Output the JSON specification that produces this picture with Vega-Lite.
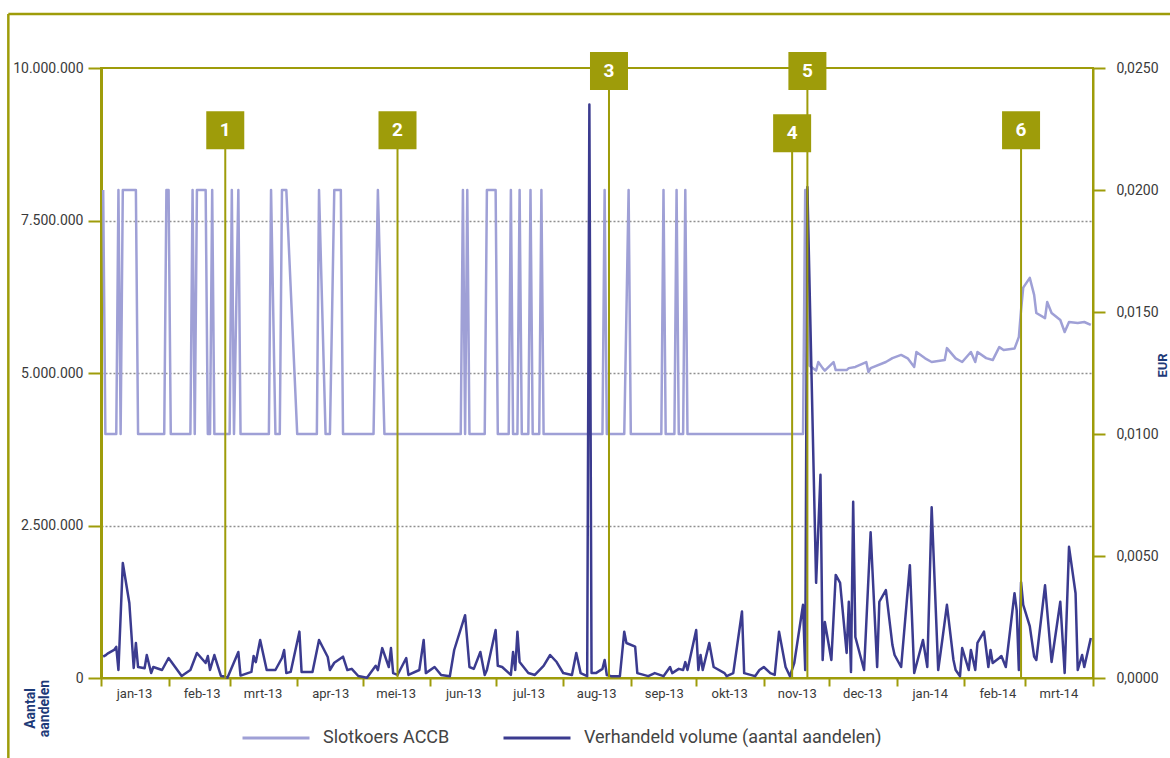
{
  "$schema": "https://vega.github.io/schema/vega-lite/v6.json",
  "width": 992,
  "height": 610,
  "autosize": "none",
  "padding": {"left": 101, "top": 68, "right": 77, "bottom": 80},
  "background": "white",
  "config": {
    "locale": {"number": {"decimal": ",", "thousands": ".", "grouping": [3], "currency": ["€", ""]}},
    "view": {"stroke": "#9e9c0a", "strokeWidth": 2},
    "axis": {"labelFont": "Roboto", "labelFontSize": 13, "labelColor": "#3a3a3a", "domainColor": "#9e9c0a", "tickColor": "#9e9c0a", "domainWidth": 2, "tickWidth": 2, "titleFont": "Roboto"},
    "line": {"strokeJoin": "round"}
  },
  "datasets": {
    "volume": [
      {"date": "2013-01-02", "volume": 350000}, {"date": "2013-01-03", "volume": 370000}, {"date": "2013-01-04", "volume": 400000},
      {"date": "2013-01-07", "volume": 460000}, {"date": "2013-01-08", "volume": 510000}, {"date": "2013-01-09", "volume": 130000},
      {"date": "2013-01-11", "volume": 1885000}, {"date": "2013-01-14", "volume": 1230000}, {"date": "2013-01-16", "volume": 164000},
      {"date": "2013-01-17", "volume": 574000}, {"date": "2013-01-18", "volume": 180000}, {"date": "2013-01-21", "volume": 160000},
      {"date": "2013-01-22", "volume": 377000}, {"date": "2013-01-24", "volume": 82000}, {"date": "2013-01-25", "volume": 180000},
      {"date": "2013-01-29", "volume": 131000}, {"date": "2013-02-01", "volume": 328000}, {"date": "2013-02-04", "volume": 180000},
      {"date": "2013-02-07", "volume": 33000}, {"date": "2013-02-11", "volume": 131000}, {"date": "2013-02-14", "volume": 410000},
      {"date": "2013-02-18", "volume": 246000}, {"date": "2013-02-19", "volume": 360000}, {"date": "2013-02-20", "volume": 131000},
      {"date": "2013-02-22", "volume": 377000}, {"date": "2013-02-25", "volume": 33000}, {"date": "2013-02-26", "volume": 30000},
      {"date": "2013-02-28", "volume": 5000}, {"date": "2013-03-05", "volume": 426000}, {"date": "2013-03-06", "volume": 40000},
      {"date": "2013-03-11", "volume": 100000}, {"date": "2013-03-12", "volume": 360000}, {"date": "2013-03-13", "volume": 260000},
      {"date": "2013-03-15", "volume": 623000}, {"date": "2013-03-18", "volume": 131000}, {"date": "2013-03-22", "volume": 131000},
      {"date": "2013-03-25", "volume": 328000}, {"date": "2013-03-26", "volume": 459000}, {"date": "2013-03-27", "volume": 80000},
      {"date": "2013-03-29", "volume": 100000}, {"date": "2013-04-02", "volume": 760000}, {"date": "2013-04-03", "volume": 100000},
      {"date": "2013-04-08", "volume": 100000}, {"date": "2013-04-11", "volume": 623000}, {"date": "2013-04-15", "volume": 344000},
      {"date": "2013-04-16", "volume": 131000}, {"date": "2013-04-18", "volume": 250000}, {"date": "2013-04-22", "volume": 350000},
      {"date": "2013-04-24", "volume": 130000}, {"date": "2013-04-26", "volume": 150000}, {"date": "2013-04-29", "volume": 33000},
      {"date": "2013-05-03", "volume": 5000}, {"date": "2013-05-07", "volume": 200000}, {"date": "2013-05-08", "volume": 130000},
      {"date": "2013-05-10", "volume": 490000}, {"date": "2013-05-13", "volume": 180000}, {"date": "2013-05-14", "volume": 490000},
      {"date": "2013-05-15", "volume": 80000}, {"date": "2013-05-17", "volume": 50000}, {"date": "2013-05-21", "volume": 328000},
      {"date": "2013-05-22", "volume": 50000}, {"date": "2013-05-27", "volume": 131000}, {"date": "2013-05-29", "volume": 623000},
      {"date": "2013-05-30", "volume": 80000}, {"date": "2013-06-03", "volume": 180000}, {"date": "2013-06-06", "volume": 50000},
      {"date": "2013-06-10", "volume": 30000}, {"date": "2013-06-12", "volume": 459000}, {"date": "2013-06-17", "volume": 1030000},
      {"date": "2013-06-19", "volume": 180000}, {"date": "2013-06-21", "volume": 150000}, {"date": "2013-06-24", "volume": 426000},
      {"date": "2013-06-26", "volume": 50000}, {"date": "2013-06-27", "volume": 131000}, {"date": "2013-07-01", "volume": 787000},
      {"date": "2013-07-02", "volume": 200000}, {"date": "2013-07-04", "volume": 180000}, {"date": "2013-07-08", "volume": 50000},
      {"date": "2013-07-09", "volume": 426000}, {"date": "2013-07-10", "volume": 131000}, {"date": "2013-07-11", "volume": 760000},
      {"date": "2013-07-12", "volume": 262000}, {"date": "2013-07-16", "volume": 82000}, {"date": "2013-07-19", "volume": 50000},
      {"date": "2013-07-23", "volume": 200000}, {"date": "2013-07-26", "volume": 377000}, {"date": "2013-07-29", "volume": 262000},
      {"date": "2013-08-01", "volume": 82000}, {"date": "2013-08-05", "volume": 50000}, {"date": "2013-08-07", "volume": 410000},
      {"date": "2013-08-09", "volume": 80000}, {"date": "2013-08-12", "volume": 30000}, {"date": "2013-08-13", "volume": 9400000},
      {"date": "2013-08-14", "volume": 80000}, {"date": "2013-08-16", "volume": 80000}, {"date": "2013-08-19", "volume": 150000},
      {"date": "2013-08-20", "volume": 295000}, {"date": "2013-08-21", "volume": 50000}, {"date": "2013-08-23", "volume": 30000},
      {"date": "2013-08-27", "volume": 30000}, {"date": "2013-08-29", "volume": 760000}, {"date": "2013-08-30", "volume": 574000},
      {"date": "2013-09-03", "volume": 513000}, {"date": "2013-09-04", "volume": 80000}, {"date": "2013-09-09", "volume": 30000},
      {"date": "2013-09-12", "volume": 80000}, {"date": "2013-09-16", "volume": 30000}, {"date": "2013-09-19", "volume": 180000},
      {"date": "2013-09-20", "volume": 80000}, {"date": "2013-09-23", "volume": 150000}, {"date": "2013-09-25", "volume": 131000},
      {"date": "2013-09-26", "volume": 260000}, {"date": "2013-09-27", "volume": 131000}, {"date": "2013-10-01", "volume": 787000},
      {"date": "2013-10-02", "volume": 131000}, {"date": "2013-10-03", "volume": 377000}, {"date": "2013-10-04", "volume": 131000},
      {"date": "2013-10-07", "volume": 574000}, {"date": "2013-10-09", "volume": 180000}, {"date": "2013-10-14", "volume": 80000},
      {"date": "2013-10-15", "volume": 30000}, {"date": "2013-10-18", "volume": 80000}, {"date": "2013-10-22", "volume": 1090000},
      {"date": "2013-10-23", "volume": 80000}, {"date": "2013-10-28", "volume": 30000}, {"date": "2013-10-30", "volume": 131000},
      {"date": "2013-11-01", "volume": 180000}, {"date": "2013-11-04", "volume": 80000}, {"date": "2013-11-06", "volume": 50000},
      {"date": "2013-11-08", "volume": 760000}, {"date": "2013-11-11", "volume": 180000}, {"date": "2013-11-13", "volume": 30000},
      {"date": "2013-11-15", "volume": 250000}, {"date": "2013-11-19", "volume": 1200000}, {"date": "2013-11-20", "volume": 131000},
      {"date": "2013-11-21", "volume": 8050000}, {"date": "2013-11-25", "volume": 1560000}, {"date": "2013-11-27", "volume": 3330000},
      {"date": "2013-11-28", "volume": 295000}, {"date": "2013-11-29", "volume": 918000}, {"date": "2013-12-02", "volume": 295000},
      {"date": "2013-12-04", "volume": 1690000}, {"date": "2013-12-06", "volume": 1560000}, {"date": "2013-12-09", "volume": 410000},
      {"date": "2013-12-10", "volume": 1250000}, {"date": "2013-12-11", "volume": 100000}, {"date": "2013-12-12", "volume": 2890000},
      {"date": "2013-12-13", "volume": 672000}, {"date": "2013-12-17", "volume": 131000}, {"date": "2013-12-20", "volume": 2390000},
      {"date": "2013-12-23", "volume": 180000}, {"date": "2013-12-24", "volume": 1250000}, {"date": "2013-12-27", "volume": 1440000},
      {"date": "2013-12-30", "volume": 540000}, {"date": "2013-12-31", "volume": 377000}, {"date": "2014-01-03", "volume": 180000},
      {"date": "2014-01-07", "volume": 1850000}, {"date": "2014-01-09", "volume": 82000}, {"date": "2014-01-13", "volume": 623000},
      {"date": "2014-01-15", "volume": 180000}, {"date": "2014-01-17", "volume": 2800000}, {"date": "2014-01-20", "volume": 131000},
      {"date": "2014-01-22", "volume": 656000}, {"date": "2014-01-24", "volume": 1200000}, {"date": "2014-01-27", "volume": 295000},
      {"date": "2014-01-28", "volume": 131000}, {"date": "2014-01-30", "volume": 30000}, {"date": "2014-01-31", "volume": 490000},
      {"date": "2014-02-03", "volume": 131000}, {"date": "2014-02-04", "volume": 459000}, {"date": "2014-02-06", "volume": 131000},
      {"date": "2014-02-07", "volume": 574000}, {"date": "2014-02-10", "volume": 760000}, {"date": "2014-02-12", "volume": 180000},
      {"date": "2014-02-13", "volume": 459000}, {"date": "2014-02-14", "volume": 246000}, {"date": "2014-02-17", "volume": 328000},
      {"date": "2014-02-18", "volume": 360000}, {"date": "2014-02-20", "volume": 180000}, {"date": "2014-02-24", "volume": 1390000},
      {"date": "2014-02-25", "volume": 1110000}, {"date": "2014-02-26", "volume": 131000}, {"date": "2014-02-27", "volume": 1570000},
      {"date": "2014-02-28", "volume": 1200000}, {"date": "2014-03-03", "volume": 850000}, {"date": "2014-03-05", "volume": 350000},
      {"date": "2014-03-06", "volume": 295000}, {"date": "2014-03-10", "volume": 1520000}, {"date": "2014-03-13", "volume": 262000},
      {"date": "2014-03-17", "volume": 1250000}, {"date": "2014-03-19", "volume": 82000}, {"date": "2014-03-21", "volume": 2150000},
      {"date": "2014-03-24", "volume": 1390000}, {"date": "2014-03-25", "volume": 131000}, {"date": "2014-03-27", "volume": 377000},
      {"date": "2014-03-28", "volume": 180000}, {"date": "2014-03-31", "volume": 656000}
    ],
    "price": [
      {"date": "2013-01-02", "price": 0.02}, {"date": "2013-01-03", "price": 0.01}, {"date": "2013-01-08", "price": 0.01},
      {"date": "2013-01-09", "price": 0.02}, {"date": "2013-01-10", "price": 0.01}, {"date": "2013-01-11", "price": 0.02},
      {"date": "2013-01-17", "price": 0.02}, {"date": "2013-01-18", "price": 0.01}, {"date": "2013-01-30", "price": 0.01},
      {"date": "2013-01-31", "price": 0.02}, {"date": "2013-02-01", "price": 0.02}, {"date": "2013-02-02", "price": 0.01},
      {"date": "2013-02-11", "price": 0.01}, {"date": "2013-02-12", "price": 0.02}, {"date": "2013-02-13", "price": 0.01},
      {"date": "2013-02-14", "price": 0.02}, {"date": "2013-02-18", "price": 0.02}, {"date": "2013-02-19", "price": 0.01},
      {"date": "2013-02-20", "price": 0.01}, {"date": "2013-02-21", "price": 0.02}, {"date": "2013-02-22", "price": 0.01},
      {"date": "2013-03-01", "price": 0.01}, {"date": "2013-03-02", "price": 0.02}, {"date": "2013-03-03", "price": 0.01},
      {"date": "2013-03-05", "price": 0.02}, {"date": "2013-03-06", "price": 0.01}, {"date": "2013-03-19", "price": 0.01},
      {"date": "2013-03-20", "price": 0.02}, {"date": "2013-03-22", "price": 0.01}, {"date": "2013-03-24", "price": 0.01},
      {"date": "2013-03-25", "price": 0.02}, {"date": "2013-03-27", "price": 0.02}, {"date": "2013-04-01", "price": 0.01},
      {"date": "2013-04-10", "price": 0.01}, {"date": "2013-04-11", "price": 0.02}, {"date": "2013-04-14", "price": 0.01},
      {"date": "2013-04-16", "price": 0.01}, {"date": "2013-04-18", "price": 0.02}, {"date": "2013-04-21", "price": 0.02},
      {"date": "2013-04-22", "price": 0.01}, {"date": "2013-05-06", "price": 0.01}, {"date": "2013-05-08", "price": 0.02},
      {"date": "2013-05-11", "price": 0.01}, {"date": "2013-06-15", "price": 0.01}, {"date": "2013-06-16", "price": 0.02},
      {"date": "2013-06-17", "price": 0.01}, {"date": "2013-06-18", "price": 0.02}, {"date": "2013-06-19", "price": 0.01},
      {"date": "2013-06-26", "price": 0.01}, {"date": "2013-06-27", "price": 0.02}, {"date": "2013-07-01", "price": 0.02},
      {"date": "2013-07-02", "price": 0.01}, {"date": "2013-07-07", "price": 0.01}, {"date": "2013-07-08", "price": 0.02},
      {"date": "2013-07-09", "price": 0.01}, {"date": "2013-07-11", "price": 0.01}, {"date": "2013-07-12", "price": 0.02},
      {"date": "2013-07-13", "price": 0.01}, {"date": "2013-07-16", "price": 0.01}, {"date": "2013-07-17", "price": 0.02},
      {"date": "2013-07-18", "price": 0.01}, {"date": "2013-07-21", "price": 0.01}, {"date": "2013-07-22", "price": 0.02},
      {"date": "2013-07-23", "price": 0.01}, {"date": "2013-08-19", "price": 0.01}, {"date": "2013-08-20", "price": 0.02},
      {"date": "2013-08-21", "price": 0.01}, {"date": "2013-08-29", "price": 0.01}, {"date": "2013-08-31", "price": 0.02},
      {"date": "2013-09-01", "price": 0.01}, {"date": "2013-09-15", "price": 0.01}, {"date": "2013-09-16", "price": 0.02},
      {"date": "2013-09-17", "price": 0.01}, {"date": "2013-09-21", "price": 0.01}, {"date": "2013-09-22", "price": 0.02},
      {"date": "2013-09-23", "price": 0.01}, {"date": "2013-09-25", "price": 0.01}, {"date": "2013-09-26", "price": 0.02},
      {"date": "2013-09-27", "price": 0.01}, {"date": "2013-11-19", "price": 0.01}, {"date": "2013-11-20", "price": 0.02},
      {"date": "2013-11-21", "price": 0.02}, {"date": "2013-11-22", "price": 0.0128}, {"date": "2013-11-25", "price": 0.0126},
      {"date": "2013-11-26", "price": 0.01295}, {"date": "2013-11-28", "price": 0.0127}, {"date": "2013-11-29", "price": 0.0126},
      {"date": "2013-12-03", "price": 0.01295}, {"date": "2013-12-04", "price": 0.01262}, {"date": "2013-12-06", "price": 0.01262},
      {"date": "2013-12-09", "price": 0.01262}, {"date": "2013-12-10", "price": 0.0127}, {"date": "2013-12-13", "price": 0.01275},
      {"date": "2013-12-18", "price": 0.01295}, {"date": "2013-12-19", "price": 0.01254}, {"date": "2013-12-20", "price": 0.0127},
      {"date": "2013-12-27", "price": 0.01295}, {"date": "2013-12-30", "price": 0.01311}, {"date": "2014-01-03", "price": 0.01324},
      {"date": "2014-01-06", "price": 0.0131}, {"date": "2014-01-09", "price": 0.01275}, {"date": "2014-01-10", "price": 0.01336},
      {"date": "2014-01-14", "price": 0.0131}, {"date": "2014-01-17", "price": 0.01295}, {"date": "2014-01-23", "price": 0.01303},
      {"date": "2014-01-24", "price": 0.01352}, {"date": "2014-01-28", "price": 0.0131}, {"date": "2014-01-31", "price": 0.01295},
      {"date": "2014-02-04", "price": 0.01336}, {"date": "2014-02-06", "price": 0.01295}, {"date": "2014-02-07", "price": 0.01336},
      {"date": "2014-02-11", "price": 0.01311}, {"date": "2014-02-14", "price": 0.01303}, {"date": "2014-02-17", "price": 0.01356},
      {"date": "2014-02-19", "price": 0.01344}, {"date": "2014-02-24", "price": 0.0135}, {"date": "2014-02-26", "price": 0.01398},
      {"date": "2014-02-27", "price": 0.01508}, {"date": "2014-02-28", "price": 0.016}, {"date": "2014-03-03", "price": 0.0164},
      {"date": "2014-03-05", "price": 0.0157}, {"date": "2014-03-06", "price": 0.01496}, {"date": "2014-03-10", "price": 0.01475},
      {"date": "2014-03-11", "price": 0.01541}, {"date": "2014-03-13", "price": 0.01496}, {"date": "2014-03-17", "price": 0.01467},
      {"date": "2014-03-19", "price": 0.01418}, {"date": "2014-03-21", "price": 0.01459}, {"date": "2014-03-25", "price": 0.01455},
      {"date": "2014-03-28", "price": 0.01459}, {"date": "2014-03-31", "price": 0.01447}
    ],
    "markers": [
      {"n": "1", "date": "2013-02-27", "volume": 8980000},
      {"n": "2", "date": "2013-05-17", "volume": 8980000},
      {"n": "3", "date": "2013-08-22", "volume": 9950000},
      {"n": "4", "date": "2013-11-14", "volume": 8930000},
      {"n": "5", "date": "2013-11-21", "volume": 9950000},
      {"n": "6", "date": "2014-02-27", "volume": 8980000}
    ]
  },
  "layer": [
    {
      "data": {"name": "price"},
      "mark": {"type": "line", "strokeWidth": 2.5},
      "encoding": {
        "x": {"field": "date", "type": "temporal", "scale": {"type": "utc", "domain": [{"year": 2013, "month": 1, "date": 1, "utc": true}, {"year": 2014, "month": 4, "date": 1, "utc": true}]}},
        "y": {
          "field": "price",
          "type": "quantitative",
          "scale": {"domain": [0, 0.025]},
          "axis": {
            "orient": "right",
            "values": [0, 0.005, 0.01, 0.015, 0.02, 0.025],
            "format": ".4f",
            "tickSize": 12,
            "labelPadding": 11,
            "labelFontSize": 14,
            "grid": false,
            "title": "EUR",
            "titleAngle": 270,
            "titleX": 69,
            "titleY": 297,
            "titleAlign": "center",
            "titleBaseline": "middle",
            "titleFontSize": 13,
            "titleFontWeight": "bold",
            "titleColor": "#1d3a78"
          }
        },
        "color": {
          "datum": "Slotkoers ACCB",
          "type": "nominal",
          "scale": {"domain": ["Slotkoers ACCB", "Verhandeld volume (aantal aandelen)"], "range": ["#9fa0d6", "#3b3b8f"]},
          "legend": {
            "orient": "none",
            "legendX": 140,
            "legendY": 635,
            "direction": "horizontal",
            "title": null,
            "symbolType": "stroke",
            "symbolSize": 4489,
            "symbolStrokeWidth": 3,
            "labelFont": "Roboto",
            "labelFontSize": 18,
            "labelColor": "#444444",
            "labelOffset": 12,
            "labelLimit": 500,
            "columnPadding": 52
          }
        }
      }
    },
    {
      "layer": [
        {
          "data": {"name": "volume"},
          "mark": {"type": "line", "strokeWidth": 2.5},
          "encoding": {
            "x": {
              "field": "date",
              "type": "temporal",
              "scale": {"type": "utc", "domain": [{"year": 2013, "month": 1, "date": 1, "utc": true}, {"year": 2014, "month": 4, "date": 1, "utc": true}]},
              "axis": {
                "title": null,
                "grid": false,
                "values": [
                  {"year": 2013, "month": 1, "date": 1, "utc": true}, {"year": 2013, "month": 2, "date": 1, "utc": true},
                  {"year": 2013, "month": 3, "date": 1, "utc": true}, {"year": 2013, "month": 4, "date": 1, "utc": true},
                  {"year": 2013, "month": 5, "date": 1, "utc": true}, {"year": 2013, "month": 6, "date": 1, "utc": true},
                  {"year": 2013, "month": 7, "date": 1, "utc": true}, {"year": 2013, "month": 8, "date": 1, "utc": true},
                  {"year": 2013, "month": 9, "date": 1, "utc": true}, {"year": 2013, "month": 10, "date": 1, "utc": true},
                  {"year": 2013, "month": 11, "date": 1, "utc": true}, {"year": 2013, "month": 12, "date": 1, "utc": true},
                  {"year": 2014, "month": 1, "date": 1, "utc": true}, {"year": 2014, "month": 2, "date": 1, "utc": true},
                  {"year": 2014, "month": 3, "date": 1, "utc": true}, {"year": 2014, "month": 4, "date": 1, "utc": true}
                ],
                "labelExpr": "(utcyear(datum.value) == 2014 && utcmonth(datum.value) == 3) ? '' : ['jan','feb','mrt','apr','mei','jun','jul','aug','sep','okt','nov','dec'][utcmonth(datum.value)] + '-' + utcFormat(datum.value, '%y')",
                "tickSize": 8,
                "labelOffset": 33,
                "labelPadding": 1,
                "labelFlush": false,
                "labelOverlap": false,
                "labelFontSize": 13
              }
            },
            "y": {
              "field": "volume",
              "type": "quantitative",
              "scale": {"domain": [0, 10000000]},
              "axis": {
                "orient": "left",
                "values": [0, 2500000, 5000000, 7500000, 10000000],
                "format": ",d",
                "tickSize": 13,
                "labelPadding": 5,
                "labelFontSize": 14,
                "domainWidth": 3,
                "grid": true,
                "gridColor": "#8f8f8f",
                "gridDash": [2, 2],
                "gridWidth": 1.5,
                "gridOpacity": {"condition": {"test": "datum.value == 0 || datum.value == 10000000", "value": 0}, "value": 1},
                "title": ["Aantal", "aandelen"],
                "titleAngle": 270,
                "titleX": -71,
                "titleY": 640,
                "titleAlign": "center",
                "titleBaseline": "middle",
                "titleFontSize": 14,
                "titleFontWeight": "bold",
                "titleColor": "#1d3a78",
                "titleLineHeight": 14
              }
            },
            "color": {
              "datum": "Verhandeld volume (aantal aandelen)",
              "type": "nominal",
              "scale": {"domain": ["Slotkoers ACCB", "Verhandeld volume (aantal aandelen)"], "range": ["#9fa0d6", "#3b3b8f"]}
            }
          }
        },
        {
          "data": {"name": "markers"},
          "mark": {"type": "rule", "color": "#9e9c0a", "strokeWidth": 2},
          "encoding": {
            "x": {"field": "date", "type": "temporal", "scale": {"type": "utc", "domain": [{"year": 2013, "month": 1, "date": 1, "utc": true}, {"year": 2014, "month": 4, "date": 1, "utc": true}]}},
            "y": {"field": "volume", "type": "quantitative", "scale": {"domain": [0, 10000000]}},
            "y2": {"datum": 0}
          }
        },
        {
          "data": {"name": "markers"},
          "mark": {"type": "point", "shape": "square", "size": 1444, "filled": true, "color": "#9e9c0a", "opacity": 1, "strokeWidth": 0},
          "encoding": {
            "x": {"field": "date", "type": "temporal", "scale": {"type": "utc", "domain": [{"year": 2013, "month": 1, "date": 1, "utc": true}, {"year": 2014, "month": 4, "date": 1, "utc": true}]}},
            "y": {"field": "volume", "type": "quantitative", "scale": {"domain": [0, 10000000]}}
          }
        },
        {
          "data": {"name": "markers"},
          "mark": {"type": "text", "color": "white", "font": "Roboto", "fontSize": 19, "fontWeight": "bold", "align": "center", "baseline": "middle"},
          "encoding": {
            "x": {"field": "date", "type": "temporal", "scale": {"type": "utc", "domain": [{"year": 2013, "month": 1, "date": 1, "utc": true}, {"year": 2014, "month": 4, "date": 1, "utc": true}]}},
            "y": {"field": "volume", "type": "quantitative", "scale": {"domain": [0, 10000000]}},
            "text": {"field": "n"}
          }
        },
        {
          "data": {"values": [{"edge": "top"}]},
          "mark": {"type": "rule", "color": "#9e9c0a", "strokeWidth": 2.5, "clip": false},
          "encoding": {
            "x": {"datum": {"year": 2012, "month": 11, "date": 19, "hours": 12, "utc": true}, "type": "temporal", "scale": {"type": "utc", "domain": [{"year": 2013, "month": 1, "date": 1, "utc": true}, {"year": 2014, "month": 4, "date": 1, "utc": true}]}},
            "x2": {"datum": {"year": 2014, "month": 5, "date": 20, "utc": true}},
            "y": {"datum": 10885000, "type": "quantitative", "scale": {"domain": [0, 10000000]}}
          }
        },
        {
          "data": {"values": [{"edge": "left"}]},
          "mark": {"type": "rule", "color": "#9e9c0a", "strokeWidth": 2.5, "clip": false},
          "encoding": {
            "x": {"datum": {"year": 2012, "month": 11, "date": 19, "hours": 12, "utc": true}, "type": "temporal", "scale": {"type": "utc", "domain": [{"year": 2013, "month": 1, "date": 1, "utc": true}, {"year": 2014, "month": 4, "date": 1, "utc": true}]}},
            "y": {"datum": 10885000, "type": "quantitative", "scale": {"domain": [0, 10000000]}},
            "y2": {"datum": -1500000}
          }
        }
      ]
    }
  ],
  "resolve": {"scale": {"y": "independent"}}
}
